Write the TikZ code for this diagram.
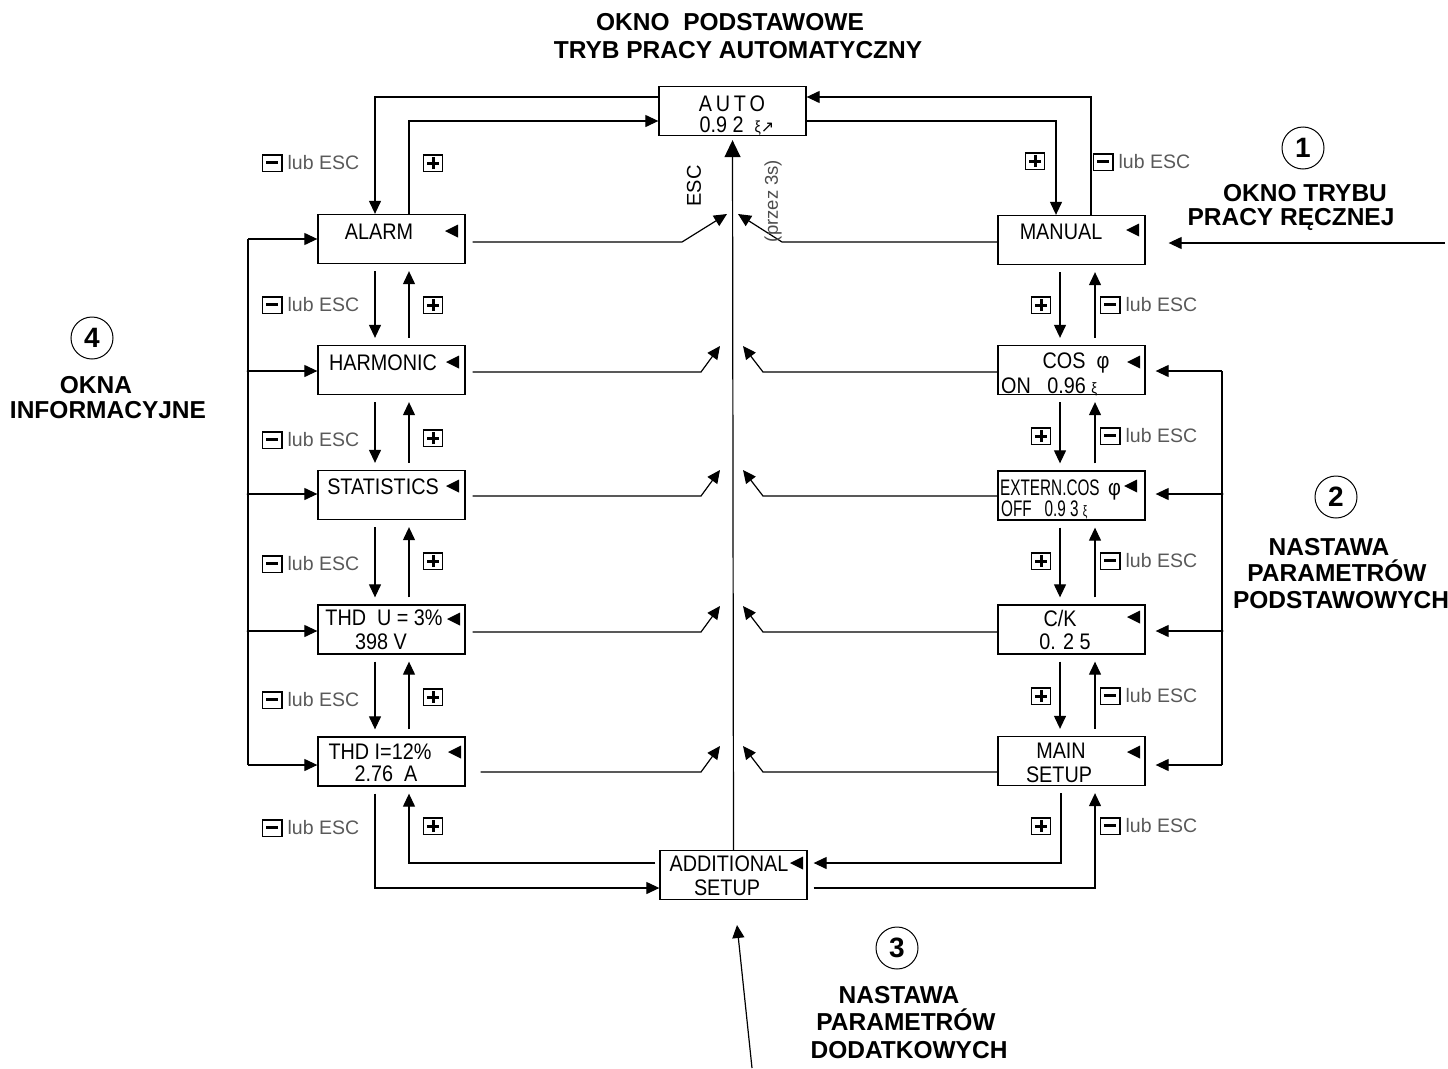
\documentclass[tikz,border=0pt]{standalone}
\usepackage{fontspec}
\setmainfont{Liberation Sans}
\newfontfamily\bxf[FakeStretch=0.88]{Liberation Sans}
\newfontfamily\narrowf[FakeStretch=0.68]{Liberation Sans}
\newfontfamily\symf{DejaVu Sans}
\usetikzlibrary{arrows.meta}
\newcommand\keyfr[1]{\textcolor{black}{\setlength\fboxsep{0pt}\setlength\fboxrule{1.2pt}\fbox{\makebox[18pt]{\rule[-1.5pt]{0pt}{15pt}#1}}}}
\newcommand\minuskey{\keyfr{\rule[5pt]{12pt}{3pt}}}
\newcommand\pluskey{\keyfr{\makebox[12pt][l]{\rule[4.5pt]{12pt}{3pt}\hspace{-7.5pt}\rule[0pt]{3pt}{12pt}}}}
\newcommand\mlub{\minuskey\hspace{5pt}lub ESC}
\newcommand\boxmarker[2]{\fill (#1,#2) -- ++(13,-6.5) -- ++(0,13) -- cycle;}
\tikzset{
  box/.style={draw, line width=1.3pt, minimum width=147pt, minimum height=49pt, inner sep=0pt},
  arr/.style={-{Triangle[length=13pt,width=12pt]}, line width=1.2pt},
  ln/.style={line width=1.2pt},
  btxt/.style={font=\bxf\fontsize{22.5}{25}\selectfont, inner sep=0pt, text height=16pt, text depth=0pt},
  ttl/.style={font=\bfseries\fontsize{24.5}{28}\selectfont, inner sep=0pt, text height=17.5pt, text depth=0pt},
  keylbl/.style={font=\fontsize{19.5}{22}\selectfont, text=black!65, inner sep=0pt, anchor=west},
  keyn/.style={inner sep=0pt},
  num/.style={circle, draw, line width=1pt, minimum size=42pt, inner sep=0pt, font=\bfseries\fontsize{28}{30}\selectfont},
  dot/.style={circle, fill, inner sep=0pt, minimum size=3pt}
}
\begin{document}
\begin{tikzpicture}[x=1pt,y=-1pt]
\useasboundingbox (0,0) rectangle (1448,1068);
% boxes
\node[box] (auto) at (732.5,111) {};
\node[box] (alarm) at (391.5,239) {};
\node[box] (harm) at (391.5,370) {};
\node[box] (stat) at (391.5,495) {};
\node[box] (thdu) at (391.5,629.5) {};
\node[box] (thdi) at (391.5,761.5) {};
\node[box] (manual) at (1071.5,240) {};
\node[box] (cos) at (1071.5,370) {};
\node[box] (ext) at (1071.5,495.5) {};
\node[box] (ck) at (1071.5,629.5) {};
\node[box] (main) at (1071.5,761) {};
\node[box] (add) at (733.5,875) {};
% box texts
\node[btxt] (tauto1) at (732,103) {A\,U\,T\,O};
\node[btxt] (tauto2) at (737,124) {0.9 2 \ {\fontsize{16}{16}\selectfont ξ}{\symf\fontsize{16}{16}\selectfont ↗}};
\node[btxt] (talarm) at (379,231) {ALARM};
\node[btxt] (tharm) at (383,362) {HARMONIC};
\node[btxt] (tstat) at (383,486) {STATISTICS};
\node[btxt] (tthdu1) at (384,617) {THD \ U = 3\%};
\node[btxt] (tthdu2) at (381,641) {398 V};
\node[btxt] (tthdi1) at (380,751) {THD I=12\%};
\node[btxt] (tthdi2) at (386,773) {2.76 \ A};
\node[btxt] (tmanual) at (1061,231) {MANUAL};
\node[btxt] (tcos1) at (1076,360) {COS \ φ};
\node[btxt,anchor=west] (tcos2) at (1001,385) {ON \ \ 0.96 {\fontsize{15}{15}\selectfont ξ}};
\node[btxt,anchor=west] (text1) at (1000,487) {\narrowf EXTERN.COS \ {\bxf φ}};
\node[btxt,anchor=west] (text2) at (1001,508) {\narrowf OFF \ \ 0.9 3 {\fontsize{15}{15}\selectfont ξ}};
\node[btxt] (tck1) at (1060,618) {C/K};
\node[btxt] (tck2) at (1065,641) {0. 2 5};
\node[btxt] (tmain1) at (1061,750) {MAIN};
\node[btxt] (tmain2) at (1059,774) {SETUP};
\node[btxt] (tadd1) at (729,863) {ADDITIONAL};
\node[btxt] (tadd2) at (727,887) {SETUP};
% markers
\boxmarker{445}{231}
\boxmarker{446}{362}
\boxmarker{446}{486}
\boxmarker{447}{619}
\boxmarker{448}{752}
\boxmarker{1126}{230}
\boxmarker{1127}{362}
\boxmarker{1124}{486}
\boxmarker{1127}{617}
\boxmarker{1127}{752}
\boxmarker{790}{863}
% top loops
\draw[arr] (auto.west |- 0,97) -| (alarm.north -| 375,0);
\draw[arr] (alarm.north -| 409,0) |- (auto.west |- 0,121);
\draw[arr] (auto.east |- 0,121) -| (manual.north -| 1056,0);
\draw[arr] (manual.north -| 1091,0) |- (auto.east |- 0,97);
% left column
\foreach \a/\b in {alarm/harm, harm/stat, stat/thdu, thdu/thdi}{
  \draw[arr, shorten <=7pt, shorten >=7pt] (\a.south -| 375,0) -- (\b.north -| 375,0);
  \draw[arr, shorten <=7pt, shorten >=7pt] (\b.north -| 409,0) -- (\a.south -| 409,0);
}
% right column
\foreach \a/\b in {manual/cos, cos/ext, ext/ck, ck/main}{
  \draw[arr, shorten <=7pt, shorten >=7pt] (\a.south -| 1060,0) -- (\b.north -| 1060,0);
  \draw[arr, shorten <=7pt, shorten >=7pt] (\b.north -| 1095,0) -- (\a.south -| 1095,0);
}
% bottom loops
\draw[arr, shorten <=7pt] (thdi.south -| 375,0) |- (add.west |- 0,888);
\draw[arr, shorten <=4pt, shorten >=7pt] (add.west |- 0,863) -| (thdi.south -| 409,0);
\draw[arr, shorten <=7pt, shorten >=6pt] (main.south -| 1061,0) |- (add.east |- 0,863);
\draw[arr, shorten <=6pt, shorten >=7pt] (add.east |- 0,888) -| (main.south -| 1095,0);
% central spine
\draw[line width=1.2pt, -{Triangle[length=17pt,width=16pt]}, shorten >=4pt] (add.north) -- (auto.south);
\coordinate (c1l) at (727,214);
\coordinate (c1r) at (738,214);
\coordinate (c2l) at (720,346);
\coordinate (c2r) at (743,346);
\coordinate (c3l) at (720,470);
\coordinate (c3r) at (743,470);
\coordinate (c4l) at (720,606);
\coordinate (c4r) at (743,606);
\coordinate (c5l) at (720,746);
\coordinate (c5r) at (743,746);
\draw[arr, shorten <=7pt] (alarm.east |- 0,242) -- (682,242) -- (c1l);
\draw[arr] (manual.west |- 0,242) -- (782,242) -- (c1r);
\draw[arr, shorten <=7pt] (harm.east |- 0,372) -- (701,372) -- (c2l);
\draw[arr] (cos.west |- 0,372) -- (763,372) -- (c2r);
\draw[arr, shorten <=7pt] (stat.east |- 0,496) -- (701,496) -- (c3l);
\draw[arr] (ext.west |- 0,496) -- (763,496) -- (c3r);
\draw[arr, shorten <=7pt] (thdu.east |- 0,632) -- (701,632) -- (c4l);
\draw[arr] (ck.west |- 0,632) -- (763,632) -- (c4r);
\draw[arr, shorten <=15pt] (thdi.east |- 0,772) -- (701,772) -- (c5l);
\draw[arr] (main.west |- 0,772) -- (763,772) -- (c5r);
% left bus
\coordinate (lb1) at (248,239);
\coordinate (lb2) at (248,371);
\coordinate (lb3) at (248,494);
\coordinate (lb4) at (248,631);
\coordinate (lb5) at (248,765);
\draw[ln] (lb1) -- (lb5);
\draw[arr] (lb1) -- (alarm.west |- lb1);
\draw[arr] (lb2) -- (harm.west |- lb2);
\draw[arr] (lb3) -- (stat.west |- lb3);
\draw[arr] (lb4) -- (thdu.west |- lb4);
\draw[arr] (lb5) -- (thdi.west |- lb5);
\node[dot] (d1) at (lb2) {};
\node[dot] (d2) at (lb3) {};
\node[dot] (d3) at (lb4) {};
% right bus
\coordinate (rb1) at (1222,371);
\coordinate (rb2) at (1222,494);
\coordinate (rb3) at (1222,631);
\coordinate (rb4) at (1222,765);
\draw[ln] (rb1) -- (rb4);
\draw[arr, shorten >=10pt] (rb1) -- (cos.east |- rb1);
\draw[arr, shorten >=10pt] (rb2) -- (ext.east |- rb2);
\draw[arr, shorten >=10pt] (rb3) -- (ck.east |- rb3);
\draw[arr, shorten >=10pt] (rb4) -- (main.east |- rb4);
\node[dot] (d4) at (rb2) {};
\node[dot] (d5) at (rb3) {};
% entry arrows
\coordinate (mstart) at (1445,243);
\draw[arr, shorten >=23pt] (mstart) -- (manual.east |- mstart);
\coordinate (bstart) at (752,1068);
\coordinate (bend) at (737,925);
\draw[arr] (bstart) -- (bend);
% center labels
\node[font=\fontsize{20}{22}\selectfont, rotate=90, inner sep=0pt] (esc) at (694,186) {ESC};
\node[font=\fontsize{18.5}{20}\selectfont, text=black!70, rotate=90, inner sep=0pt] (przez) at (773,201) {(przez 3s)};
% key labels left
\node[keylbl] (kl0) at (262,163) {\mlub};
\node[keylbl] (kl1) at (262,305) {\mlub};
\node[keylbl] (kl2) at (262,440) {\mlub};
\node[keylbl] (kl3) at (262,564) {\mlub};
\node[keylbl] (kl4) at (262,700) {\mlub};
\node[keylbl] (kl5) at (262,828) {\mlub};
\node[keyn] (pl0) at (433,163) {\pluskey};
\node[keyn] (pl1) at (433,305) {\pluskey};
\node[keyn] (pl2) at (433,438) {\pluskey};
\node[keyn] (pl3) at (433,561) {\pluskey};
\node[keyn] (pl4) at (433,697) {\pluskey};
\node[keyn] (pl5) at (433,826) {\pluskey};
% key labels right
\node[keylbl] (kr0) at (1093,162) {\mlub};
\node[keylbl] (kr1) at (1100,305) {\mlub};
\node[keylbl] (kr2) at (1100,436) {\mlub};
\node[keylbl] (kr3) at (1100,561) {\mlub};
\node[keylbl] (kr4) at (1100,696) {\mlub};
\node[keylbl] (kr5) at (1100,826) {\mlub};
\node[keyn] (pr0) at (1035,161) {\pluskey};
\node[keyn] (pr1) at (1041,305) {\pluskey};
\node[keyn] (pr2) at (1041,436) {\pluskey};
\node[keyn] (pr3) at (1041,561) {\pluskey};
\node[keyn] (pr4) at (1041,696) {\pluskey};
\node[keyn] (pr5) at (1041,826) {\pluskey};
% titles
\node[ttl] (ti1) at (730,22) {OKNO\ \ PODSTAWOWE};
\node[ttl] (ti2) at (738,50) {TRYB PRACY AUTOMATYCZNY};
\node[num] (n1) at (1303,148) {1};
\node[ttl] (t1a) at (1305,193) {OKNO TRYBU};
\node[ttl] (t1b) at (1291,217) {PRACY RĘCZNEJ};
\node[num] (n2) at (1336,497) {2};
\node[ttl] (t2a) at (1329,547) {NASTAWA};
\node[ttl] (t2b) at (1337,573) {PARAMETRÓW};
\node[ttl] (t2c) at (1341,600) {PODSTAWOWYCH};
\node[num] (n3) at (897,948) {3};
\node[ttl] (t3a) at (899,995) {NASTAWA};
\node[ttl] (t3b) at (906,1022) {PARAMETRÓW};
\node[ttl] (t3c) at (909,1050) {DODATKOWYCH};
\node[num] (n4) at (92,338) {4};
\node[ttl] (t4a) at (96,385) {OKNA};
\node[ttl] (t4b) at (108,410) {INFORMACYJNE};
\end{tikzpicture}
\end{document}
